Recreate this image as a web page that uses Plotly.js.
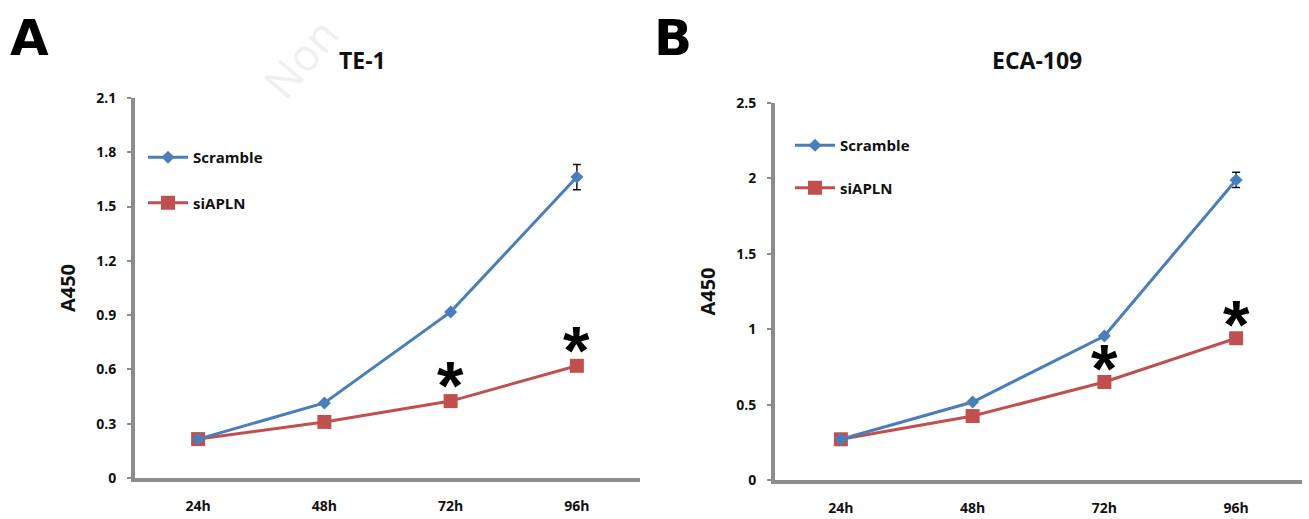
<!DOCTYPE html>
<html>
<head>
<meta charset="utf-8">
<script src="https://cdn.plot.ly/plotly-3.0.1.min.js"></script>
<style>html,body{margin:0;padding:0;background:#fff;}#chart{width:1309px;height:519px;}</style>
</head>
<body>
<div id="chart"></div>
<script>
// ---- data ----
const timepoints = ["24h", "48h", "72h", "96h"];
const te1Scramble = [0.215, 0.415, 0.918, 1.663];
const te1ScrambleErr = [0, 0, 0, 0.07];
const te1SiAPLN = [0.215, 0.31, 0.425, 0.62];
const eca109Scramble = [0.27, 0.517, 0.955, 1.99];
const eca109ScrambleErr = [0, 0, 0, 0.05];
const eca109SiAPLN = [0.27, 0.424, 0.65, 0.94];
const te1Ticks = [0, 0.3, 0.6, 0.9, 1.2, 1.5, 1.8, 2.1];
const ecaTicks = [0, 0.5, 1, 1.5, 2, 2.5];
const ecaTickText = ["0", "0.5", "1", "1.5", "2", "2.5"];
const sigIndex = [2, 3]; // 72h, 96h marked with *

const BLUE = "#4a7ebb", RED = "#c0504d", AXIS = "#8c8c8c";
const FONT = "Open Sans, DejaVu Sans, sans-serif";

function series(x, y, err, name, color, symbol, size, xa, ya, legend, group, rank, showErr) {
  const t = {
    x: x, y: y, name: name, type: "scatter", mode: "lines+markers",
    xaxis: xa, yaxis: ya, legend: legend, legendgroup: group, legendrank: rank,
    line: {color: color, width: 3},
    marker: {color: color, symbol: symbol, size: size}
  };
  if (showErr) t.error_y = {type: "data", array: err, visible: true, color: "#111", thickness: 1.5, width: 4};
  return t;
}

const traces = [
  series(timepoints, te1SiAPLN, null, "siAPLN", RED, "square", 14, "x", "y", "legend", "a2", 2, false),
  series(timepoints, te1Scramble, te1ScrambleErr, "Scramble", BLUE, "diamond", 10, "x", "y", "legend", "a1", 1, true),
  series(timepoints, eca109SiAPLN, null, "siAPLN", RED, "square", 14, "x2", "y2", "legend2", "b2", 2, false),
  series(timepoints, eca109Scramble, eca109ScrambleErr, "Scramble", BLUE, "diamond", 10, "x2", "y2", "legend2", "b1", 1, true)
];

const starFont = {family: "Liberation Sans, Arial, sans-serif", size: 68, color: "#000", weight: 700};
const annotations = [];
sigIndex.forEach(i => {
  annotations.push({x: timepoints[i], y: te1SiAPLN[i], xref: "x", yref: "y", text: "<b>*</b>", showarrow: false,
    yanchor: "middle", yshift: 16, font: starFont});
  annotations.push({x: timepoints[i], y: eca109SiAPLN[i], xref: "x2", yref: "y2", text: "<b>*</b>", showarrow: false,
    yanchor: "middle", yshift: 14, font: starFont});
});
// panel letters and watermark
annotations.push({x: 8/1309, y: 1 - 38/519, xref: "paper", yref: "paper", xanchor: "left", yanchor: "middle",
  text: "<b>A</b>", showarrow: false, font: {family: "DejaVu Sans, sans-serif", size: 50, color: "#000", weight: 900}});
annotations.push({x: 652/1309, y: 1 - 38/519, xref: "paper", yref: "paper", xanchor: "left", yanchor: "middle",
  text: "<b>B</b>", showarrow: false, font: {family: "DejaVu Sans, sans-serif", size: 50, color: "#000", weight: 900}});
annotations.push({x: 300/1309, y: 1 - 58/519, xref: "paper", yref: "paper", xanchor: "center", yanchor: "middle",
  text: "Non", showarrow: false, textangle: -50, font: {family: FONT, size: 44, color: "rgba(200,200,200,0.3)"}});
// titles
annotations.push({x: 362/1309, y: 1 - 60/519, xref: "paper", yref: "paper", xanchor: "center", yanchor: "middle",
  text: "<b>TE-1</b>", showarrow: false, font: {family: FONT, size: 23, color: "#111"}});
annotations.push({x: 1037/1309, y: 1 - 60/519, xref: "paper", yref: "paper", xanchor: "center", yanchor: "middle",
  text: "<b>ECA-109</b>", showarrow: false, font: {family: FONT, size: 23, color: "#111"}});

function yaxis(ticks, text, range, domain, anchor) {
  return {
    domain: domain, range: range, anchor: anchor, tickmode: "array", tickvals: ticks, ticktext: text,
    showgrid: false, zeroline: false, showline: true, linecolor: AXIS, linewidth: 4,
    ticks: "outside", ticklen: 4, tickcolor: AXIS, tickwidth: 2, ticklabelstandoff: 8,
    tickfont: {family: FONT, size: 14, color: "#111", weight: 700},
    title: {text: "<b>A450</b>", font: {family: FONT, size: 20, color: "#111"}, standoff: 16}
  };
}
function xaxis(domain, anchor) {
  return {
    domain: domain, range: [-0.5, 3.5], anchor: anchor, type: "category",
    showgrid: false, zeroline: false, showline: true, linecolor: AXIS, linewidth: 4,
    ticks: "", ticklabelstandoff: 12,
    tickfont: {family: FONT, size: 14, color: "#111", weight: 700}
  };
}

const legendCommon = {xanchor: "left", yanchor: "top", bgcolor: "rgba(0,0,0,0)",
  traceorder: "grouped", itemwidth: 40,
  font: {family: FONT, size: 15, color: "#111", weight: 700}};

const layout = {
  width: 1309, height: 519,
  margin: {l: 0, r: 0, t: 0, b: 0},
  paper_bgcolor: "#fff", plot_bgcolor: "#fff",
  showlegend: true,
  xaxis: xaxis([135/1309, 640/1309], "y"),
  yaxis: yaxis(te1Ticks, te1Ticks.map(v => v === 0 ? "0" : v.toFixed(1)), [0, 2.1], [1 - 478/519, 1 - 98/519], "x"),
  xaxis2: xaxis([775/1309, 1302/1309], "y2"),
  yaxis2: yaxis(ecaTicks, ecaTickText, [0, 2.5], [1 - 480/519, 1 - 103/519], "x2"),
  legend: Object.assign({}, legendCommon, {x: 143/1309, y: 1 - 141/519, tracegroupgap: 23}),
  legend2: Object.assign({}, legendCommon, {x: 790/1309, y: 1 - 129/519, tracegroupgap: 20}),
  annotations: annotations
};

Plotly.newPlot("chart", traces, layout, {displayModeBar: false, staticPlot: true});
</script>
</body>
</html>
